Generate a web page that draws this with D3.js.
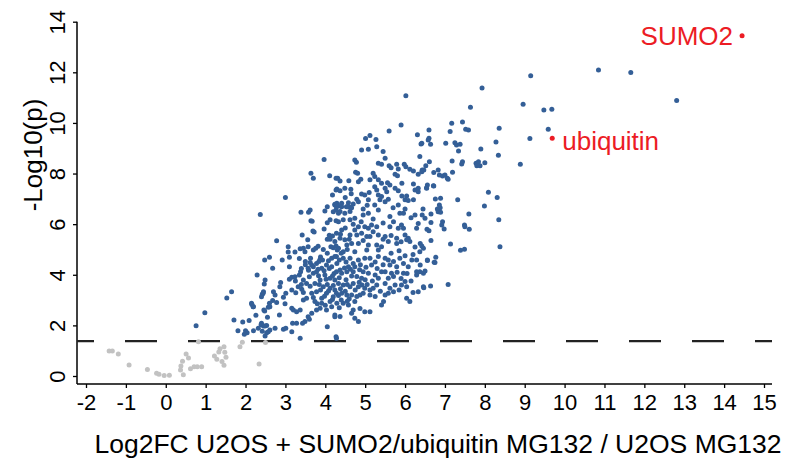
<!DOCTYPE html>
<html lang="en">
<head>
  <meta charset="UTF-8">
  <title>Volcano plot</title>
  <script src="https://d3js.org/d3.v7.min.js"></script>
  <style>
    body { margin: 0; background: #fff; }
    text { font-family: Arial, "Liberation Sans", sans-serif; }
  </style>
</head>
<body>
  <div id="container"></div>
  <script>
    // values
    const xTicks = d3.range(-2, 16)
    const yTicks = [0, 2, 4, 6, 8, 10, 12, 14]
    const cutoff = 1.38

    const nsPoints = [
      [-1.42,0.99],[-1.34,0.99],[-1.19,0.87],[-0.92,0.43],[-0.46,0.26],[-0.23,0.11],[-0.17,0.07],
      [-0.04,0.02],[0.09,0.03],[0.44,0.05],[0.37,0.24],[0.38,0.40],[0.42,0.58],[0.51,0.87],
      [0.57,0.71],[0.62,0.29],[0.71,0.37],[0.79,0.37],[0.90,0.37],[0.82,1.35],[1.22,0.79],
      [1.28,0.66],[1.33,0.95],[1.36,1.08],[1.46,1.16],[1.48,0.94],[1.51,0.74],[1.41,0.57],
      [1.46,0.42],[1.86,1.16],[1.92,1.33],[2.34,0.47],[2.50,1.32]
    ]

    const sigPoints = [
      [1.53,3.08],[1.65,3.33],[0.98,2.50],[0.76,1.99],[2.16,2.83],[2.20,2.74],[2.42,3.23],[2.45,3.33],
      [2.48,2.57],[2.61,2.74],[2.55,2.32],[2.26,2.40],[2.09,2.19],[1.93,2.13],[1.71,2.21],[1.81,1.79],
      [2.00,1.79],[2.04,1.71],[1.97,1.65],[2.20,1.79],[2.39,2.03],[2.45,1.98],[2.42,1.77],[2.53,2.00],
      [2.49,1.58],[2.57,1.75],
      [3.97,8.55],[3.64,8.01],[3.70,7.81],[4.11,7.91],[4.27,7.81],[3.00,7.05],[2.37,6.38],[3.39,6.47],
      [3.58,6.47],[3.62,6.56],[3.64,6.13],[3.67,6.11],[3.69,5.73],[3.72,5.69],[3.42,5.57],[2.78,5.34],
      [3.07,5.11],[3.07,4.90],[3.24,4.90],[3.37,5.03],[3.45,5.05],[3.49,4.91],[3.57,5.11],[3.56,5.38],
      [3.70,4.98],[3.76,5.05],[3.82,5.13],[3.97,5.81],[4.05,6.06],[4.12,6.17],[3.99,6.52],[4.05,6.69],
      [4.18,7.15],[4.27,7.35],[4.24,6.79],[4.29,6.83],[4.20,6.49],[4.27,6.56],[4.33,6.43],[4.27,6.13],
      [4.10,5.56],[4.18,5.53],[4.05,5.40],[4.12,5.40],[4.14,5.11],[4.20,5.07],[4.27,5.14],[2.48,4.58],
      [2.60,4.69],[2.92,4.58],[3.10,4.69],[3.35,4.64],[3.50,4.52],[3.63,4.65],[3.87,4.61],[3.93,4.58],
      [4.16,4.65],[4.24,4.72],[4.30,4.98],
      [3.10,4.32],[2.68,4.26],[2.29,3.99],[2.49,3.79],[2.47,3.64],[2.88,3.69],[2.86,3.53],[3.10,3.82],
      [3.16,3.90],[3.24,3.92],[3.35,3.99],[3.38,4.12],[3.57,4.26],[3.66,4.39],[3.78,4.45],[3.70,4.06],
      [3.45,3.79],[3.53,3.66],[3.32,3.53],[3.41,3.43],[3.16,3.40],[3.26,3.29],[3.01,3.27],[2.95,3.11],
      [2.70,3.33],[2.74,3.20],[2.44,3.27],[2.40,3.13],[2.68,2.98],[2.78,2.90],[2.60,2.87],[2.57,2.72],
      [2.99,2.85],[3.16,2.68],[3.20,2.61],[3.28,2.54],[3.37,2.61],[2.19,2.74],[2.15,2.87],[2.46,2.61],
      [2.85,2.41],[3.57,2.34],[3.66,2.48],[3.78,2.61],[3.87,2.68],[3.74,2.94],[3.91,2.87],[3.45,3.00],
      [2.40,2.08],[2.49,1.98],[2.32,1.89],[2.74,1.89],[2.61,1.82],[2.53,1.71],[2.95,1.85],[3.01,1.89],
      [3.16,1.75],[3.18,2.08],[3.28,2.08],[3.43,2.08],[3.49,2.15],[3.60,2.24],[3.37,1.49],[4.05,1.95],
      [4.24,2.34],[4.27,1.55],[4.03,2.61],[4.16,2.74],
      [3.70,4.32],[3.78,4.12],[3.91,4.26],[4.03,4.39],[4.16,4.32],[4.29,4.45],[3.99,3.99],[4.12,3.86],
      [4.24,3.79],[3.87,3.79],[3.74,3.66],[3.95,3.53],[4.12,3.47],[4.24,3.40],[3.78,3.33],[4.03,3.27],
      [4.20,3.13],[3.91,3.07],[4.29,2.87],[3.66,3.27],[3.53,3.07],[4.12,2.94],
      [3.62,4.48],[3.84,4.52],[4.08,4.55],[4.35,4.58],[4.52,4.50],[4.70,4.45],[4.88,4.40],
      [3.58,4.18],[3.82,4.22],[3.97,4.16],[4.10,4.25],[4.22,4.05],[4.48,4.27],[4.63,4.22],[4.86,4.20],
      [5.02,4.30],[3.60,3.92],[3.83,3.96],[4.02,3.82],[4.18,3.95],[4.35,3.88],[4.52,3.80],[4.66,3.95],
      [4.85,3.70],[5.00,3.80],[5.18,3.75],[3.40,3.62],[3.62,3.55],[3.85,3.62],[4.05,3.62],[4.20,3.58],
      [4.38,3.45],[4.55,3.62],[4.75,3.40],[4.92,3.60],[5.05,3.62],[3.45,3.30],[3.88,3.40],[4.08,3.36],
      [4.33,3.18],[4.50,3.35],[4.60,3.05],[4.95,3.27],[5.38,3.35],[3.70,3.10],[3.98,3.15],[4.18,3.02],
      [4.40,3.00],[3.80,2.85],[4.00,2.80],[4.35,2.70],[4.55,2.95],[3.25,3.75],[3.40,4.25],[3.50,4.40],
      [3.88,4.70],[4.05,4.85],[4.40,4.85],[4.55,5.00],[3.95,5.00],
      [6.02,11.07],[7.93,11.38],
      [5.90,9.92],[5.60,9.68],[5.12,9.50],[5.01,9.38],[5.27,9.35],[6.31,9.53],[6.40,9.17],[5.29,9.06],
      [5.08,8.96],[4.91,8.93],[5.45,8.87],[4.74,8.54],[4.78,8.45],[5.50,8.60],[5.33,8.41],[5.41,8.37],
      [5.60,8.31],[5.65,8.23],[5.79,8.37],[5.83,8.18],[5.98,8.37],[6.02,8.27],[6.12,8.17],[6.21,8.10],
      [6.43,8.14],[6.33,7.97],[4.76,8.05],[4.81,8.01],[5.20,8.01],[5.24,7.88],[5.75,7.97],[5.81,7.91],
      [4.31,7.81],[4.37,7.71],[4.59,7.72],[4.83,7.68],[4.89,7.77],[5.12,7.75],[5.33,7.75],[5.41,7.62],
      [5.56,7.64],[5.62,7.55],[5.92,7.62],[6.21,7.59],[4.29,7.39],[4.37,7.32],[4.49,7.42],[4.64,7.38],
      [5.24,7.48],[5.29,7.35],[5.50,7.42],[5.54,7.28],[5.75,7.42],[5.83,7.32],[6.25,7.35],[6.33,7.42],
      [4.91,7.19],[4.99,7.15],[5.33,7.15],[5.41,7.09],[5.92,7.11],[6.00,6.96],[6.04,7.11],[4.41,6.83],
      [4.58,6.85],[4.79,6.98],[4.83,6.89],[5.08,6.96],[5.37,6.96],[5.50,6.89],[5.58,6.98],[6.08,6.93],
      [6.21,6.96],[6.33,7.28],[4.24,6.76],[4.32,6.72],[4.53,6.69],[4.62,6.67],[5.24,6.76],[5.83,6.76],
      [4.50,7.05],[4.65,7.20],[5.10,7.25],[4.70,6.80],[4.95,6.60],[5.05,6.75],[5.70,6.65],[6.00,6.60],
      [6.45,6.60],[6.15,6.25],
      [4.28,6.69],[4.41,6.69],[4.56,6.69],[4.66,6.65],[4.37,6.50],[4.49,6.43],[4.62,6.50],[4.95,6.36],
      [5.08,6.43],[5.33,6.56],[5.62,6.30],[5.87,6.43],[5.96,6.43],[6.25,6.36],[6.33,6.03],[6.50,6.23],
      [4.33,6.10],[4.45,6.17],[4.62,6.17],[4.74,6.23],[4.99,5.90],[4.83,5.90],[4.74,5.77],[4.41,5.77],
      [4.28,5.64],[5.08,5.84],[5.16,5.97],[5.29,5.90],[5.62,5.90],[5.71,6.10],[5.91,5.97],[5.96,5.84],
      [5.83,5.84],[6.29,5.84],[4.62,5.57],[4.79,5.57],[4.91,5.64],[5.04,5.51],[5.12,5.51],[5.33,5.57],
      [5.50,5.51],[5.79,5.44],[6.00,5.57],[6.08,5.44],[4.37,5.44],[4.49,5.38],[4.24,5.31],[4.54,5.18],
      [4.66,5.24],[4.83,5.24],[5.08,5.18],[5.29,5.18],[5.41,5.11],[5.58,5.31],[5.79,5.24],[6.04,5.38],
      [6.12,5.31],[6.38,5.24],[6.46,5.05],[4.33,5.05],[4.45,4.91],[4.74,4.91],[5.04,4.98],[5.33,4.98],
      [4.28,4.72],[4.45,4.65],[4.62,4.65],[4.83,4.58],[4.99,4.65],[5.12,4.65],[5.33,4.72],[5.50,4.65],
      [5.58,4.58],[5.71,4.52],[5.87,4.65],[5.96,4.45],[6.17,4.58],[6.29,4.58],[4.58,4.32],[4.74,4.32],
      [5.16,4.39],[5.62,4.39],[5.79,4.32],[6.08,4.32],[6.38,4.39],[4.37,4.19],[4.54,4.12],[4.95,4.12],
      [5.41,4.12],[5.66,4.06],[6.29,4.12],
      [4.38,5.60],[4.50,5.85],[4.70,6.00],[4.90,6.10],[5.20,6.20],[5.45,6.05],[4.60,5.40],[4.95,5.35],
      [5.20,5.70],[5.45,5.40],[5.65,5.55],[5.90,5.30],[5.25,4.50],[5.45,4.40],[5.80,4.10],[6.05,4.05],
      [5.30,4.25],[5.90,3.85],[6.15,3.75],[5.85,3.40],[5.50,3.20],[6.20,3.30],[6.55,5.80],[6.65,5.35],
      [6.25,5.10],[6.20,4.80],[6.00,4.75],[5.65,4.85],[5.85,4.95],
      [4.28,4.12],[4.41,4.06],[4.70,4.12],[4.79,3.93],[4.91,3.86],[5.08,4.06],[5.25,3.99],[5.33,3.86],
      [5.50,4.12],[5.58,3.86],[5.71,3.93],[5.96,4.06],[6.00,3.73],[6.29,3.99],[6.46,4.06],[4.33,3.66],
      [4.45,3.60],[4.62,3.53],[4.70,3.66],[4.83,3.53],[4.99,3.47],[5.12,3.40],[5.20,3.47],[5.29,3.60],
      [5.50,3.66],[5.62,3.47],[5.75,3.60],[5.91,3.60],[6.04,3.53],[6.46,3.53],[4.28,3.27],[4.41,3.27],
      [4.54,3.20],[4.66,3.20],[4.79,3.14],[4.87,3.20],[5.12,3.20],[5.25,3.14],[5.58,3.27],[5.71,3.33],
      [6.33,3.33],[6.04,3.07],[6.12,2.94],[4.45,2.87],[4.58,2.81],[4.74,2.94],[5.46,2.94],[5.41,2.81],
      [4.70,2.61],[4.87,2.67],[4.99,2.54],[5.12,2.54],[4.37,2.35],[4.24,2.41],[4.66,2.48],[4.74,2.28],
      [4.83,2.15],[4.28,1.49],
      [7.64,10.62],[7.17,9.99],[7.44,10.04],[8.36,9.79],[7.52,9.75],[7.59,9.72],[7.13,9.66],[6.60,9.72],
      [6.60,9.39],[6.58,9.33],[6.42,9.20],[6.64,9.16],[7.02,9.20],[7.25,9.22],[7.29,9.13],[7.38,9.16],
      [7.34,8.89],[8.28,9.25],[7.90,8.97],[8.34,8.72],[6.37,8.67],[7.18,8.50],[7.44,8.47],[7.42,8.38],
      [6.61,8.47],[6.52,8.31],[6.47,8.14],[6.42,8.07],[6.72,8.04],[6.83,8.14],[6.86,7.94],[6.94,7.90],
      [7.00,7.94],[7.08,7.77],[7.06,7.81],[7.19,8.05],[7.78,8.41],[7.84,8.47],[7.88,8.31],[8.00,8.43],
      [7.80,8.31],[6.56,7.55],[6.71,7.52],[6.54,7.44],
      [6.54,7.42],[6.72,7.51],[6.76,6.99],[6.89,7.02],[7.32,6.96],[6.86,6.76],[6.81,6.60],[6.88,6.65],
      [6.83,6.49],[6.89,6.47],[8.09,7.26],[8.31,7.05],[7.99,6.72],[7.60,6.40],[8.35,6.17],[6.43,6.36],
      [6.65,6.40],[6.94,6.10],[6.92,5.97],[6.98,5.81],[6.65,6.07],[6.60,5.74],[7.49,5.97],[7.50,5.90],
      [7.61,5.80],[7.14,5.22],[6.42,5.14],[6.37,4.91],[7.39,4.97],[7.49,5.01],[8.38,5.11],[6.77,4.69],
      [6.56,4.58],[6.73,4.49],
      [6.56,4.56],[6.75,4.48],[6.37,4.12],[6.50,4.15],[6.47,3.49],[6.64,3.56],[7.08,3.62],
      [9.15,11.86],[10.85,12.09],[8.96,10.74],[9.48,10.51],[9.68,10.54],[9.59,9.75],[9.13,9.38],[8.89,8.37],
      [11.66,11.99],[12.81,10.89]
    ]

    const hitNames = ['SUMO2', 'ubiquitin']
    const hitX = [14.45, 9.69]
    const hitY = [13.44, 9.39]

    const width = 786
    const height = 458

    const svg = d3.select('#container').append('svg')
      .attr('width', width)
      .attr('height', height)
      .style('background-color', '#ffffff')

    const x = d3.scaleLinear().domain([-2, 15]).range([86, 764])
    const y = d3.scaleLinear().domain([0, 14]).range([376, 21.7])

    const axisX = 77
    const axisY = 384

    // x axis
    const gx = svg.append('g')
      .attr('transform', 'translate(0,' + axisY + ')')
      .call(d3.axisBottom(x).tickValues(xTicks).tickSize(4).tickSizeOuter(0).tickFormat(d3.format('d')))
    gx.select('.domain').remove()
    gx.selectAll('.tick line').attr('stroke', '#000').attr('stroke-width', 1.3)
    gx.selectAll('.tick text')
      .attr('y', 10)
      .attr('dy', '0.71em')
      .style('font-size', '22px')
      .attr('fill', '#000')
      .text(d => d < 0 ? '-' + Math.abs(d) : d)

    // y axis
    const gy = svg.append('g')
      .attr('transform', 'translate(' + axisX + ',0)')
      .call(d3.axisLeft(y).tickValues(yTicks).tickSize(4).tickSizeOuter(0))
    gy.select('.domain').remove()
    gy.selectAll('.tick line').attr('stroke', '#000').attr('stroke-width', 1.3)
    gy.selectAll('.tick text')
      .attr('x', null).attr('dy', null)
      .attr('text-anchor', 'middle')
      .attr('transform', 'translate(-12,0) rotate(-90)')
      .style('font-size', '22px')
      .attr('fill', '#000')

    // axis lines
    svg.append('line')
      .attr('x1', axisX).attr('x2', axisX)
      .attr('y1', y(14)).attr('y2', axisY)
      .attr('stroke', '#000').attr('stroke-width', 1.5)
    svg.append('line')
      .attr('x1', axisX).attr('x2', 772)
      .attr('y1', axisY).attr('y2', axisY)
      .attr('stroke', '#000').attr('stroke-width', 1.5)

    // significance cut-off
    svg.append('line')
      .attr('x1', axisX).attr('x2', 772)
      .attr('y1', y(cutoff)).attr('y2', y(cutoff))
      .attr('stroke', '#222')
      .attr('stroke-width', 2.4)
      .attr('stroke-dasharray', '32,31')
      .attr('stroke-dashoffset', 15)

    svg.append('g').selectAll('circle')
      .data(nsPoints)
      .enter()
      .append('circle')
        .attr('cx', d => x(d[0]))
        .attr('cy', d => y(d[1]))
        .attr('r', 2.5)
        .attr('fill', '#c2c2c2')

    svg.append('g').selectAll('circle')
      .data(sigPoints)
      .enter()
      .append('circle')
        .attr('cx', d => x(d[0]))
        .attr('cy', d => y(d[1]))
        .attr('r', 2.5)
        .attr('fill', '#345f97')

    const hits = hitNames.map((n, i) => ({name: n, x: hitX[i], y: hitY[i]}))
    svg.append('g').selectAll('circle')
      .data(hits)
      .enter()
      .append('circle')
        .attr('cx', d => x(d.x))
        .attr('cy', d => y(d.y))
        .attr('r', 2.5)
        .attr('fill', '#ec1c24')

    svg.append('g').selectAll('text')
      .data(hits)
      .enter()
      .append('text')
        .attr('x', d => d.name === 'SUMO2' ? x(d.x) - 9 : x(d.x) + 10)
        .attr('y', d => d.name === 'SUMO2' ? y(d.y) + 9 : y(d.y) + 12)
        .attr('text-anchor', d => d.name === 'SUMO2' ? 'end' : 'start')
        .attr('fill', '#ec1c24')
        .style('font-size', '26px')
        .text(d => d.name)

    // axis titles
    svg.append('text')
      .attr('x', 438)
      .attr('y', 453)
      .attr('text-anchor', 'middle')
      .style('font-size', '26.5px')
      .text('Log2FC U2OS + SUMO2/ubiquitin MG132 / U2OS MG132')

    svg.append('text')
      .attr('transform', 'translate(42,155) rotate(-90)')
      .attr('text-anchor', 'middle')
      .style('font-size', '26px')
      .text('-Log10(p)')
  </script>
</body>
</html>
